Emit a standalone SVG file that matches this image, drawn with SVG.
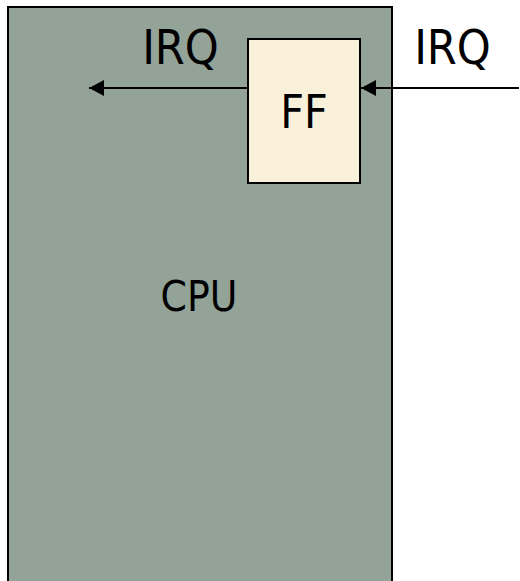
<svg xmlns="http://www.w3.org/2000/svg" width="520" height="581" viewBox="0 0 520 581">
<defs>
<style>
.t{font-family:"DejaVu Sans Condensed","DejaVu Sans",sans-serif;font-stretch:condensed;fill:#000;text-anchor:middle}
.ln{stroke:#000;stroke-width:2;fill:none}
</style>
<marker id="ah" markerWidth="15" markerHeight="16" refX="15" refY="8" orient="auto" markerUnits="userSpaceOnUse">
<path d="M0,0 L15,8 L0,16 Z" fill="#000"/>
</marker>
</defs>
<rect width="520" height="581" fill="#fff"/>
<g id="cpu">
<rect x="8" y="7" width="384" height="590" fill="#93a398" stroke="#000" stroke-width="2"/>
<text class="t" x="199" y="311" font-size="42">CPU</text>
</g>
<g id="ff">
<rect x="248" y="39" width="112" height="144" fill="#f8f0d8" stroke="#000" stroke-width="2"/>
<text class="t" x="304" y="128" font-size="46">FF</text>
</g>
<g id="connectors">
<line class="ln" x1="519" y1="88" x2="361" y2="88" marker-end="url(#ah)"/>
<line class="ln" x1="247" y1="88" x2="89" y2="88" marker-end="url(#ah)"/>
</g>
<g id="labels">
<text class="t" x="180.5" y="64" font-size="48">IRQ</text>
<text class="t" x="452.5" y="64" font-size="48">IRQ</text>
</g>
</svg>
